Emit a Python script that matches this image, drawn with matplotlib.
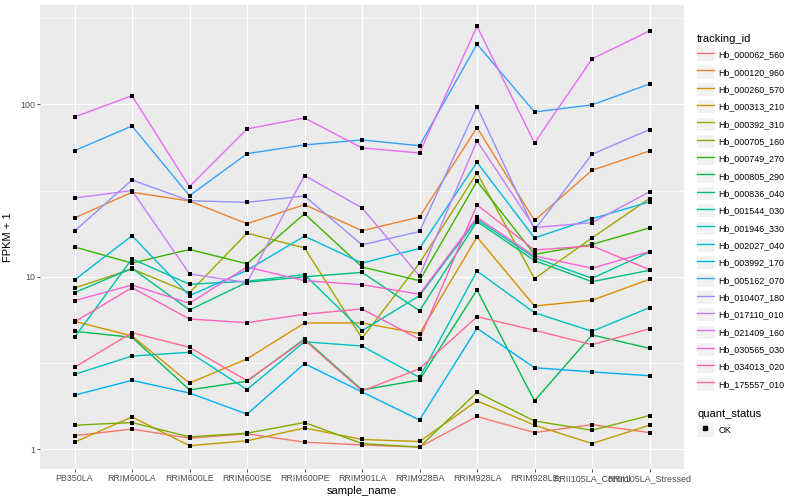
#FPKM lines per tracking id across samples (ggplot look)

import matplotlib
matplotlib.use('Agg')
import matplotlib.pyplot as plt
from matplotlib.lines import Line2D
from matplotlib.patches import Rectangle
from matplotlib.legend_handler import HandlerTuple
from matplotlib.ticker import FixedLocator, NullFormatter
import numpy as np

plt.rcParams['font.family'] = ['Liberation Sans', 'DejaVu Sans']

samples = ['PB350LA', 'RRIM600LA', 'RRIM600LE', 'RRIM600SE', 'RRIM600PE', 'RRIM901LA',
           'RRIM928BA', 'RRIM928LA', 'RRIM928LE', 'RRII105LA_Control', 'RRII105LA_Stressed']

tracking_ids = ['Hb_000062_560', 'Hb_000120_960', 'Hb_000260_570', 'Hb_000313_210', 'Hb_000392_310',
                'Hb_000705_160', 'Hb_000749_270', 'Hb_000805_290', 'Hb_000836_040', 'Hb_001544_030',
                'Hb_001946_330', 'Hb_002027_040', 'Hb_003992_170', 'Hb_005162_070', 'Hb_010407_180',
                'Hb_017110_010', 'Hb_021409_160', 'Hb_030565_030', 'Hb_034013_020', 'Hb_175557_010']

#FPKM + 1, one list per gene
hb_000062_560 = [1.20, 1.31, 1.16, 1.23, 1.10, 1.06, 1.03, 1.55, 1.25, 1.39, 1.25]
hb_000120_960 = [21.9, 30.9, 27.5, 20.3, 26.2, 18.5, 22.2, 73.2, 21.2, 41.4, 53.6]
hb_000260_570 = [5.52, 4.54, 2.42, 3.34, 5.40, 5.40, 4.68, 17.0, 6.77, 7.31, 9.67]
hb_000313_210 = [1.10, 1.54, 1.05, 1.12, 1.33, 1.14, 1.11, 1.91, 1.38, 1.08, 1.38]
hb_000392_310 = [8.61, 11.1, 8.09, 17.9, 14.7, 4.40, 12.0, 40.0, 9.75, 16.8, 28.4]
hb_000705_160 = [1.38, 1.43, 1.18, 1.24, 1.43, 1.08, 1.03, 2.14, 1.46, 1.29, 1.57]
hb_000749_270 = [14.9, 12.0, 14.4, 11.9, 23.2, 11.4, 9.49, 35.8, 13.5, 15.4, 19.2]
hb_000805_290 = [4.83, 4.46, 2.21, 2.48, 4.36, 2.21, 2.52, 8.39, 1.91, 4.60, 3.85]
hb_000836_040 = [8.09, 11.2, 6.42, 9.30, 10.0, 10.6, 6.36, 20.9, 12.4, 9.37, 10.9]
hb_001544_030 = [4.46, 12.7, 9.05, 9.42, 10.3, 4.87, 7.77, 21.5, 12.9, 9.80, 13.9]
hb_001946_330 = [2.72, 3.47, 3.65, 2.22, 4.20, 3.97, 2.61, 10.8, 6.19, 4.83, 6.62]
hb_002027_040 = [9.58, 17.3, 7.77, 10.9, 17.2, 12.0, 14.6, 46.1, 16.8, 21.7, 27.2]
hb_003992_170 = [2.06, 2.51, 2.12, 1.60, 3.14, 2.15, 1.48, 5.03, 2.97, 2.81, 2.67]
hb_005162_070 = [53.8, 74.8, 29.5, 51.7, 58.1, 62.1, 57.5, 223, 90.2, 99.1, 131]
hb_010407_180 = [18.4, 36.4, 27.6, 27.0, 29.4, 15.3, 18.3, 96.8, 18.7, 51.3, 71.3]
hb_017110_010 = [28.6, 31.6, 10.4, 9.25, 38.6, 25.1, 10.1, 61.3, 19.3, 20.6, 31.1]
hb_021409_160 = [84.4, 112, 33.3, 71.9, 83.3, 55.8, 52.2, 283, 59.7, 183, 266]
hb_030565_030 = [7.27, 8.96, 7.02, 11.4, 9.49, 9.00, 7.92, 22.1, 13.2, 11.2, 14.0]
hb_034013_020 = [5.47, 8.65, 5.69, 5.42, 6.06, 6.51, 4.34, 26.1, 14.3, 15.1, 11.0]
hb_175557_010 = [2.99, 4.74, 3.90, 2.50, 4.30, 2.18, 2.93, 5.87, 4.90, 4.04, 5.00]

series = [hb_000062_560, hb_000120_960, hb_000260_570, hb_000313_210, hb_000392_310,
          hb_000705_160, hb_000749_270, hb_000805_290, hb_000836_040, hb_001544_030,
          hb_001946_330, hb_002027_040, hb_003992_170, hb_005162_070, hb_010407_180,
          hb_017110_010, hb_021409_160, hb_030565_030, hb_034013_020, hb_175557_010]

#ggplot default hue palette for 20 levels
colors = ['#F8766D', '#EA8331', '#D89000', '#C09B00', '#A3A500', '#7CAE00', '#39B600', '#00BB4E',
          '#00BF7D', '#00C1A3', '#00BFC4', '#00BAE0', '#00B0F6', '#35A2FF', '#9590FF', '#C77CFF',
          '#E76BF3', '#FA62DB', '#FF62BC', '#FF6C91']

x = np.arange(len(samples))

fig = plt.figure(figsize=(8, 5), dpi=100)
ax = fig.add_axes([40/800, 1 - 469/500, 644/800, 464/500])
ax.set_facecolor('#EBEBEB')
ax.set_yscale('log')

for vals, c in zip(series, colors):
    ax.plot(x, vals, color=c, lw=1.0, zorder=2)
for vals in series:
    ax.scatter(x, vals, marker='s', s=8, color='black', linewidths=0, zorder=3)

ax.set_xlim(-0.6, len(samples) - 0.4)
ax.set_ylim(0.769, 376)

#grid
ax.set_yticks([1, 10, 100])
ax.set_yticklabels(['1', '10', '100'])
ax.yaxis.set_minor_locator(FixedLocator([10**0.5, 10**1.5, 10**2.5]))
ax.yaxis.set_minor_formatter(NullFormatter())
ax.set_xticks(x)
ax.set_xticklabels(samples)
ax.grid(which='major', color='white', lw=0.85)
ax.grid(which='minor', axis='y', color='white', lw=0.45)
ax.set_axisbelow(True)
for s in ax.spines.values():
    s.set_visible(False)
ax.tick_params(which='major', length=2, width=0.6, color='#333333', labelsize=6.4,
               labelcolor='#4D4D4D', pad=1.6)
ax.tick_params(which='minor', length=0)

ax.set_xlabel('sample_name', fontsize=8, labelpad=2)
ax.set_ylabel('FPKM + 1', fontsize=8, labelpad=5)

#legends
key_bg = '#F2F2F2'
handles = [(Rectangle((0, 0), 1, 1, facecolor=key_bg, edgecolor='none'), Line2D([], [], color=c, lw=1.0))
           for c in colors]
leg1 = fig.legend(handles, tracking_ids, loc='upper left', bbox_to_anchor=(697/800, 1 - 34/500),
                  title='tracking_id', frameon=False, fontsize=6.4, title_fontsize=8,
                  handlelength=1.9, handleheight=1.9, labelspacing=0.47, handletextpad=0.5,
                  borderpad=0, borderaxespad=0, alignment='left',
                  handler_map={tuple: HandlerTuple(ndivide=1)})

h2 = [(Rectangle((0, 0), 1, 1, facecolor=key_bg, edgecolor='none'),
       Line2D([], [], color='black', marker='s', ms=2.6, lw=0))]
leg2 = fig.legend(h2, ['OK'], loc='upper left', bbox_to_anchor=(697/800, 1 - 409/500),
                  title='quant_status', frameon=False, fontsize=6.4, title_fontsize=8,
                  handlelength=1.9, handleheight=1.9, handletextpad=0.5,
                  borderpad=0, borderaxespad=0, alignment='left',
                  handler_map={tuple: HandlerTuple(ndivide=1)})

fig.savefig('out.png', dpi=100)
